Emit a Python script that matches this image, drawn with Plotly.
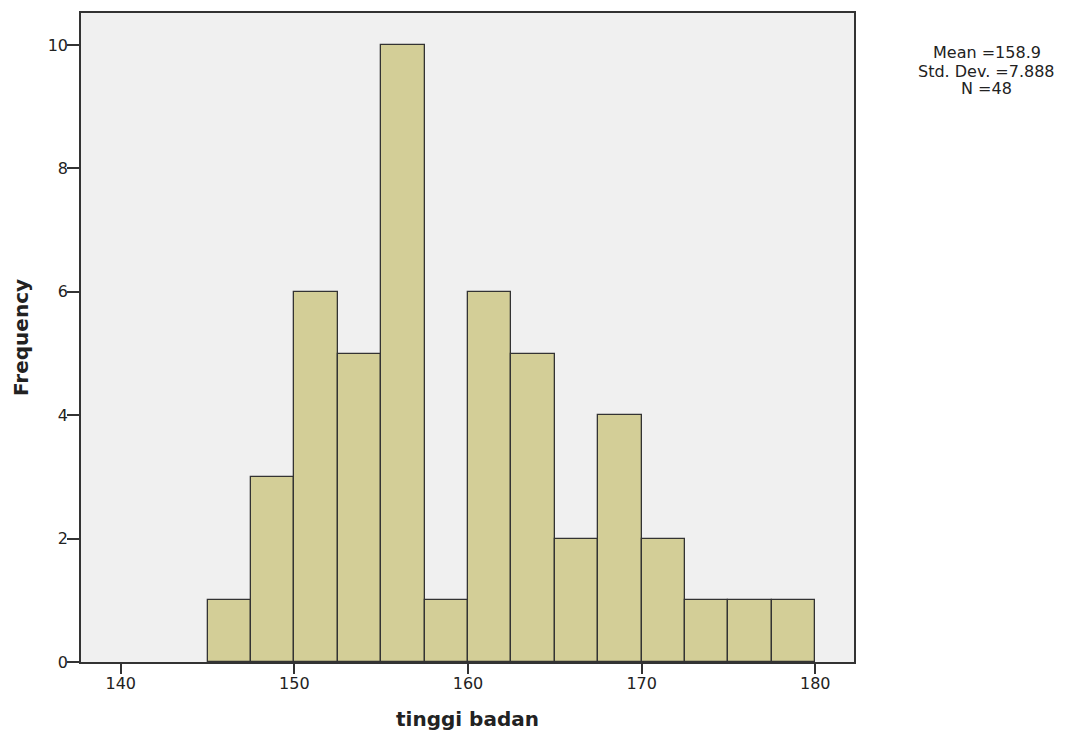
import numpy as np
import plotly.graph_objects as go

bin_starts = [145.0, 147.5, 150.0, 152.5, 155.0, 157.5, 160.0, 162.5, 165.0, 167.5, 170.0, 172.5, 175.0, 177.5]
counts = [1, 3, 6, 5, 10, 1, 6, 5, 2, 4, 2, 1, 1, 1]
bin_width = 2.5
x_ticks = [140, 150, 160, 170, 180]
y_ticks = [0, 2, 4, 6, 8, 10]
stats_lines = ["Mean =158.9", "Std. Dev. =7.888", "N =48"]

centers = np.array(bin_starts) + bin_width / 2

fig = go.Figure()
fig.add_trace(go.Bar(
    x=centers, y=counts, width=bin_width,
    marker=dict(color="#D3CE97", line=dict(color="#333333", width=1.3)),
    hoverinfo="skip",
))

FONT = "DejaVu Sans, Liberation Sans, Arial, sans-serif"
fig.update_layout(
    width=1069, height=731,
    margin=dict(l=73, r=223, t=3, b=77),
    paper_bgcolor="white",
    plot_bgcolor="#F0F0F0",
    showlegend=False,
    font=dict(family=FONT, color="#222222"),
    bargap=0,
)
fig.update_xaxes(
    range=[137.71, 182.23], tickvals=x_ticks, ticks="outside", ticklen=10,
    tickwidth=1.5, tickcolor="#333333", ticklabelstandoff=-4,
    showline=True, linecolor="#333333", linewidth=1.5, mirror=True,
    showgrid=False, zeroline=False, tickfont=dict(size=16),
    title=dict(text="<b>tinggi badan</b>", font=dict(size=20), standoff=20),
)
fig.update_yaxes(
    range=[0, 10.52], tickvals=y_ticks, ticks="outside", ticklen=12,
    tickwidth=1.5, tickcolor="#333333", ticklabelstandoff=-4,
    showline=True, linecolor="#333333", linewidth=1.5, mirror=True,
    showgrid=False, zeroline=False, tickfont=dict(size=16),
    title=dict(text="<b>Frequency</b>", font=dict(size=20), standoff=14),
)
for line, yp in zip(stats_lines, [0.9386, 0.9101, 0.8833]):
    fig.add_annotation(
        text=line, xref="paper", yref="paper", x=1.172, y=yp,
        xanchor="center", yanchor="middle", showarrow=False, align="center",
        font=dict(size=16, color="#222222"),
    )
fig.write_html("out.html")
